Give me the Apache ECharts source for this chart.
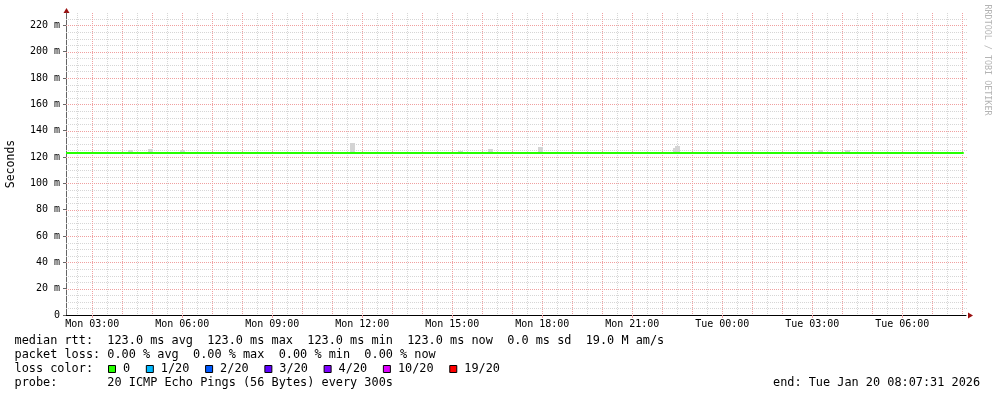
<!DOCTYPE html>
<html>
<head>
<meta charset="utf-8">
<script src="https://cdn.jsdelivr.net/npm/echarts@6/dist/echarts.min.js"></script>
<style>
  html, body { margin: 0; padding: 0; background: #fff; }
  #chart { width: 997px; height: 397px; }
</style>
</head>
<body>
<div id="chart"></div>
<script>
// time axis is in hours counted from Mon 00:00
var startHour = 2.12528;   // Mon 02:07:31
var endHour = 32.12528;    // Tue 08:07:31

var xTickHours = [3, 6, 9, 12, 15, 18, 21, 24, 27, 30];
var xTickLabels = ['Mon 03:00', 'Mon 06:00', 'Mon 09:00', 'Mon 12:00', 'Mon 15:00',
                   'Mon 18:00', 'Mon 21:00', 'Tue 00:00', 'Tue 03:00', 'Tue 06:00'];
var yTickValues = [0, 20, 40, 60, 80, 100, 120, 140, 160, 180, 200, 220];

// median rtt (ms)
var medianTimes = [2.12528, 32.05];
var medianValues = [123.0, 123.0];

// smoke (min..max rtt of the pings), only where it shows above the median
var smokeTimes = [4.19, 4.86, 5.93, 11.59, 15.19, 16.19, 17.86, 22.36, 22.44, 27.19, 28.09];
var smokeLow   = [122.5, 122.5, 122.5, 122.5, 122.5, 122.5, 122.5, 122.5, 122.5, 122.5, 122.5];
var smokeHigh  = [125.0, 126.0, 125.0, 130.5, 124.5, 126.0, 127.5, 127.0, 128.5, 125.0, 125.0];
var smokeStep = 10 / 60;

var lossLabels = ['0', '1/20', '2/20', '3/20', '4/20', '10/20', '19/20'];
var lossColors = ['#26ff00', '#00b8ff', '#0059ff', '#5e00ff', '#7e00ff', '#dd00ff', '#ff0000'];

var statLines = [
    'median rtt:  123.0 ms avg  123.0 ms max  123.0 ms min  123.0 ms now  0.0 ms sd  19.0 M am/s',
    'packet loss: 0.00 % avg  0.00 % max  0.00 % min  0.00 % now',
    'loss color:',
    'probe:       20 ICMP Echo Pings (56 Bytes) every 300s'
];
var endText = 'end: Tue Jan 20 08:07:31 2026';

var mono = 'DejaVu Sans Mono';
var minorColor = '#d6d6d6';
var majorColor = '#f0a0a0';

// grid line positions
var vMinor = [], vMajor = [], hMinor = [], hMajor = [];
for (var h = 2.5; h < endHour; h += 0.5) {
    (Math.abs(h - Math.round(h)) < 1e-6 ? vMajor : vMinor).push([h, 100]);
}
for (var v = 5; v <= 225; v += 5) {
    (v % 20 === 0 ? hMajor : hMinor).push([startHour + 1, v]);
}

function gridSeries(data, vertical, color) {
    return {
        type: 'custom', z: 1, silent: true, clip: false,
        data: data,
        renderItem: function (params, api) {
            var c = params.coordSys;
            var p = api.coord([api.value(0), api.value(1)]);
            var shape;
            if (vertical) {
                var x = Math.round(p[0]) + 0.5;
                shape = { x1: x, y1: c.y, x2: x, y2: c.y + c.height };
            } else {
                var y = Math.round(p[1]) + 0.5;
                shape = { x1: c.x, y1: y, x2: c.x + c.width + 2, y2: y };
            }
            return {
                type: 'line', shape: shape,
                style: { stroke: color, lineWidth: 1, lineDash: [1, 1] }
            };
        }
    };
}

var chart = echarts.init(document.getElementById('chart'));

// legend graphics
var graphics = [];
var lineY = [341.5, 355.5, 369.5, 383.5];
statLines.forEach(function (s, i) {
    graphics.push({
        type: 'text', left: 14.5, top: lineY[i] - 7,
        style: { text: s, font: '11.86px "' + mono + '"', fill: '#000' }
    });
});
var bx = 108;
lossLabels.forEach(function (lab, i) {
    graphics.push({
        type: 'rect', shape: { x: bx + 0.5, y: 365.5, width: 7, height: 7 },
        style: { fill: lossColors[i], stroke: '#000', lineWidth: 1 }
    });
    graphics.push({
        type: 'text', left: bx + 15, top: 369.5 - 7,
        style: { text: lab, font: '11.86px "' + mono + '"', fill: '#000' }
    });
    bx += 15 + lab.length * 7.14 + 15.7;
});
graphics.push({
    type: 'text', left: 773, top: 383.5 - 7,
    style: { text: endText, font: '11.86px "' + mono + '"', fill: '#000' }
});
graphics.push({
    type: 'text', x: 11, y: 164, rotation: Math.PI / 2,
    style: { text: 'Seconds', font: '11.5px "' + mono + '"', fill: '#000', align: 'center', verticalAlign: 'middle' }
});
graphics.push({
    type: 'text', x: 987, y: 60, rotation: -Math.PI / 2,
    style: { text: 'RRDTOOL / TOBI OETIKER', font: '8.4px "' + mono + '"', fill: '#b4b4b4', align: 'center', verticalAlign: 'middle' }
});
// axis arrows
graphics.push({
    type: 'polygon', shape: { points: [[66.5, 8], [63.5, 13], [69.5, 13]] },
    style: { fill: '#9a1010' }
});
graphics.push({
    type: 'polygon', shape: { points: [[973, 315.5], [968, 312.5], [968, 318.5]] },
    style: { fill: '#9a1010' }
});

chart.setOption({
    backgroundColor: '#fff',
    animation: false,
    grid: { left: 66, right: 31, top: 13, bottom: 82 },
    xAxis: {
        type: 'value',
        min: startHour,
        max: endHour,
        axisLine: { show: true, onZero: false, lineStyle: { color: '#000', width: 1 } },
        axisTick: { show: true, customValues: xTickHours, length: 3, lineStyle: { color: majorColor } },
        axisLabel: {
            customValues: xTickHours,
            margin: 4,
            fontFamily: mono, fontSize: 10, color: '#000',
            formatter: function (val) {
                var i = xTickHours.indexOf(Math.round(val));
                return i >= 0 ? xTickLabels[i] : '';
            }
        },
        splitLine: { show: false }
    },
    yAxis: {
        type: 'value',
        min: 0,
        max: 229.4,
        axisLine: { show: true, lineStyle: { color: '#666', width: 1 } },
        axisTick: { show: true, customValues: yTickValues, length: 3, lineStyle: { color: '#666' } },
        axisLabel: {
            customValues: yTickValues,
            margin: 6,
            fontFamily: mono, fontSize: 10, color: '#000',
            formatter: function (val) { return val === 0 ? '0' : val + ' m'; }
        },
        splitLine: { show: false }
    },
    graphic: graphics,
    series: [
        gridSeries(vMinor, true, minorColor),
        gridSeries(hMinor, false, minorColor),
        gridSeries(vMajor, true, majorColor),
        gridSeries(hMajor, false, majorColor),
        {
            type: 'custom', z: 2, silent: true,
            data: smokeTimes.map(function (t, i) { return [t, smokeLow[i], smokeHigh[i]]; }),
            renderItem: function (params, api) {
                var p1 = api.coord([api.value(0), api.value(2)]);
                var p2 = api.coord([api.value(0) + smokeStep, api.value(1)]);
                return {
                    type: 'rect',
                    shape: { x: Math.round(p1[0]), y: Math.round(p1[1]), width: Math.round(p2[0] - p1[0]), height: Math.round(p2[1] - p1[1]) },
                    style: { fill: '#d4d4d4' }
                };
            }
        },
        {
            type: 'line', z: 3, silent: true,
            data: medianTimes.map(function (t, i) { return [t, medianValues[i]]; }),
            symbol: 'none',
            lineStyle: { color: '#26ff00', width: 2 }
        }
    ]
});
</script>
</body>
</html>
